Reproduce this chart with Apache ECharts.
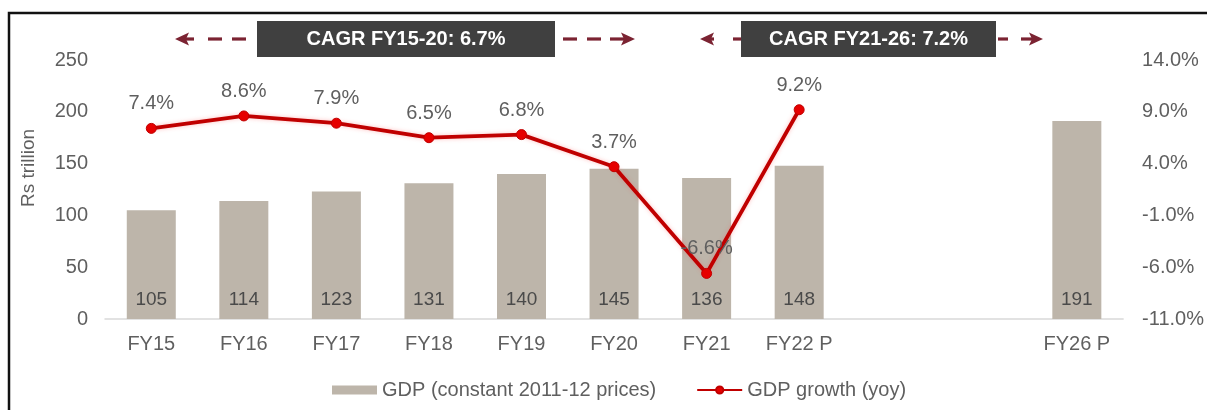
<!DOCTYPE html>
<html>
<head>
<meta charset="utf-8">
<script src="https://cdn.jsdelivr.net/npm/echarts@6/dist/echarts.min.js"></script>
<style>
html,body{margin:0;padding:0;background:#fff;}
#chart{width:1207px;height:410px;}
</style>
</head>
<body>
<div id="chart"></div>
<script>
const categories = ['FY15','FY16','FY17','FY18','FY19','FY20','FY21','FY22 P',' ','  ','FY26 P'];
const gdpValues = [105,114,123,131,140,145,136,148,null,null,191];
const growthValues = [7.4,8.6,7.9,6.5,6.8,3.7,-6.6,9.2,null,null,null];
const leftTicks = {min:0,max:250,interval:50};
const rightTicks = {min:-11,max:14,interval:5};
const cagrLabels = ['CAGR FY15-20: 6.7%','CAGR FY21-26: 7.2%'];
const seriesNames = ['GDP (constant 2011-12 prices)','GDP growth (yoy)'];

const FONT = '"Liberation Sans", Arial, sans-serif';
const TXT = '#5f5f5f';
const ARROW = '#7b2332';

function seg(x1,x2,y){return {type:'line',shape:{x1:x1,y1:y,x2:x2,y2:y},style:{stroke:ARROW,lineWidth:3.2}};}
function head(tip,dir,y){
  const b = tip - dir*14;
  return {type:'polygon',shape:{points:[[tip,y],[b,y-6.5],[b+dir*3,y],[b,y+6.5]]},style:{fill:ARROW}};
}
function box(x,w,text){
  return [
    {type:'rect',shape:{x:x,y:21,width:w,height:36},style:{fill:'#404040'},z:10},
    {type:'text',x:x+w/2,y:39,z:11,style:{text:text,fill:'#fff',font:'bold 20px '+FONT,align:'center',verticalAlign:'middle'}}
  ];
}
const ay = 39;
const graphics = [].concat(
  [{type:'rect',shape:{x:9,y:13,width:1300,height:500},style:{fill:null,stroke:'#111',lineWidth:2.5},silent:true}],
  [head(175,-1,ay), seg(184,194,ay), seg(208,222,ay), seg(232,246,ay),
   seg(563,577,ay), seg(587,601,ay), seg(610,624,ay), head(635,1,ay)],
  [head(700,-1,ay), seg(709,714,ay), seg(733,742,ay),
   seg(998,1008,ay), seg(1021,1032,ay), head(1043,1,ay)],
  box(257,298,cagrLabels[0]),
  box(741,255,cagrLabels[1]),
  [{type:'text',x:29,y:168,rotation:Math.PI/2,style:{text:'Rs trillion',fill:TXT,font:'19px '+FONT,align:'center',verticalAlign:'middle'}}]
);

const chart = echarts.init(document.getElementById('chart'));
chart.setOption({
  animation:false,
  backgroundColor:'#fff',
  textStyle:{fontFamily:FONT},
  grid:{left:105,right:79,top:60,bottom:91},
  legend:{
    left:327, top:375, itemWidth:45, itemHeight:9, itemGap:40,
    textStyle:{color:TXT,fontSize:20,fontFamily:FONT},
    data:[{name:seriesNames[0],icon:'rect'},{name:seriesNames[1]}]
  },
  xAxis:{
    type:'category', data:categories,
    axisLine:{lineStyle:{color:'#d9d9d9',width:1.5}},
    axisTick:{show:false},
    axisLabel:{color:TXT,fontSize:20,margin:15,interval:0}
  },
  yAxis:[
    {type:'value',min:leftTicks.min,max:leftTicks.max,interval:leftTicks.interval,
     splitLine:{show:false},axisLine:{show:false},axisTick:{show:false},
     axisLabel:{color:TXT,fontSize:20,margin:17}},
    {type:'value',min:rightTicks.min,max:rightTicks.max,interval:rightTicks.interval,
     splitLine:{show:false},axisLine:{show:false},axisTick:{show:false},
     axisLabel:{color:TXT,fontSize:20,margin:19,formatter:v=>v.toFixed(1)+'%'}}
  ],
  series:[
    {name:seriesNames[0],type:'bar',data:gdpValues,barWidth:49,
     itemStyle:{color:'#bdb5aa'},
     label:{show:true,position:'insideBottom',distance:10,color:'#4a4a4a',fontSize:19}},
    {name:seriesNames[1],type:'line',yAxisIndex:1,data:growthValues,
     symbol:'circle',symbolSize:10,
     lineStyle:{color:'#c00000',width:3.8,shadowColor:'rgba(255,80,80,0.35)',shadowBlur:4},
     itemStyle:{color:'#e60000',borderColor:'#c00000',borderWidth:1},
     label:{show:true,position:'top',distance:9,color:TXT,fontSize:20,formatter:p=>p.value.toFixed(1)+'%'},
     z:5}
  ],
  graphic:graphics
});
</script>
</body>
</html>
